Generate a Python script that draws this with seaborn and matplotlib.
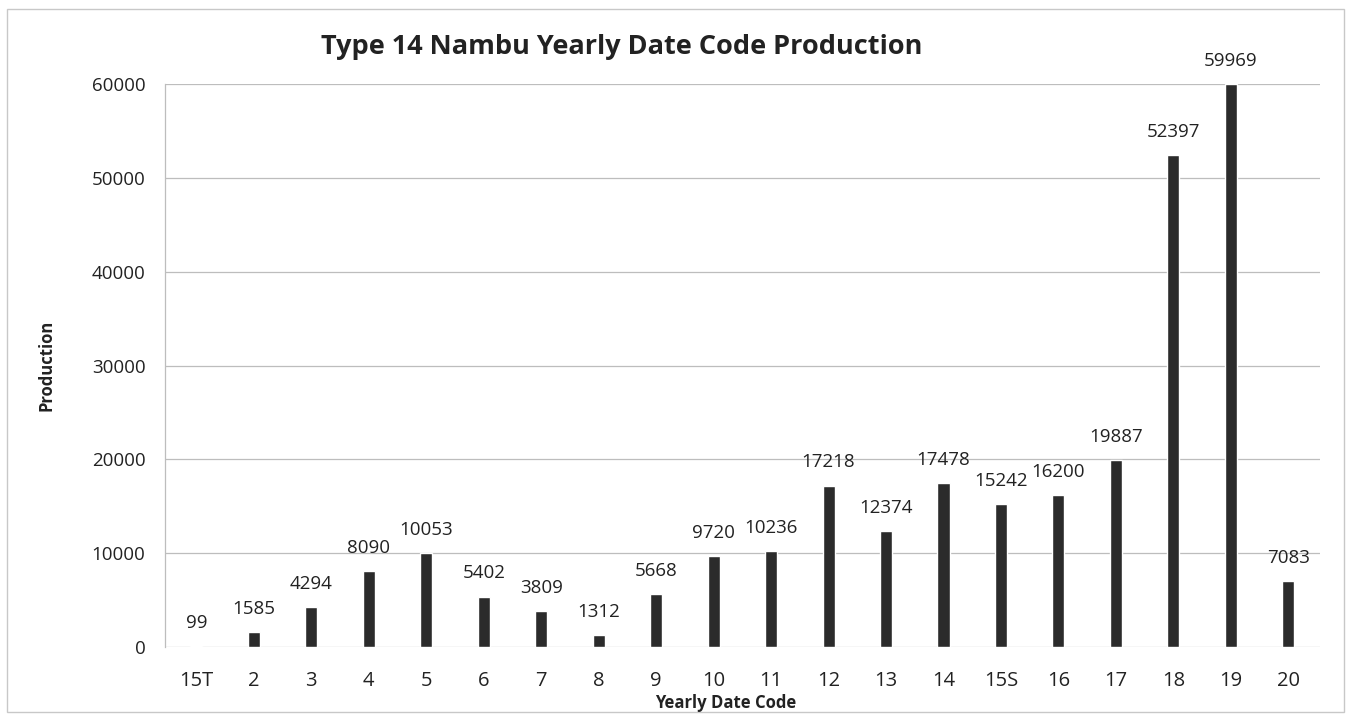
import numpy as np
import pandas as pd
import matplotlib.pyplot as plt
import seaborn as sns
from matplotlib.patches import Rectangle

# ==========================================================
# DATA
# ==========================================================
date_codes = ["15T", "2", "3", "4", "5", "6", "7", "8", "9", "10",
              "11", "12", "13", "14", "15S", "16", "17", "18", "19", "20"]
production = [99, 1585, 4294, 8090, 10053, 5402, 3809, 1312, 5668, 9720,
              10236, 17218, 12374, 17478, 15242, 16200, 19887, 52397, 59969, 7083]
y_ticks = [0, 10000, 20000, 30000, 40000, 50000, 60000]

df = pd.DataFrame({"code": date_codes, "production": production})

# ==========================================================
# STYLE
# ==========================================================
sns.set_style("white")
plt.rcParams["font.family"] = ["Open Sans", "DejaVu Sans"]

fig = plt.figure(figsize=(13.51, 7.16), dpi=100)
ax = fig.add_axes([0.122, 0.096, 0.855, 0.787])

sns.barplot(data=df, x="code", y="production", order=date_codes,
            color="#2b2b2b", width=0.21, saturation=1, ax=ax, zorder=3)

# value labels above the bars
for i, v in enumerate(production):
    ax.text(i, v + 1500, f"{v}", ha="center", va="bottom",
            fontsize=13.5, color="#222222")

ax.set_ylim(0, 60000)
ax.set_xlim(-0.55, len(date_codes) - 0.45)
ax.set_yticks(y_ticks)
ax.set_yticklabels([str(t) for t in y_ticks])
ax.yaxis.grid(True, color="#bdbdbd", linewidth=0.9, zorder=0)
ax.set_axisbelow(True)

for s in ["top", "right", "bottom"]:
    ax.spines[s].set_visible(False)
ax.spines["left"].set_color("#bdbdbd")
ax.spines["left"].set_linewidth(0.9)

ax.tick_params(axis="y", labelsize=13.5, length=0, pad=14, colors="#222222")
ax.tick_params(axis="x", labelsize=14.5, length=0, pad=17, colors="#222222")

ax.set_xlabel("")
ax.set_ylabel("Production", fontsize=12, fontweight="bold",
              labelpad=26, color="#222222")

fig.text(0.537, 0.018, "Yearly Date Code", ha="center", va="center",
         fontsize=12, fontweight="bold", color="#222222")
fig.text(0.46, 0.934, "Type 14 Nambu Yearly Date Code Production",
         ha="center", va="center", fontsize=19.5, fontweight="bold",
         color="#222222")

# outer chart border
fig.patches.append(Rectangle((0.005, 0.005), 0.99, 0.982, transform=fig.transFigure,
                             fill=False, edgecolor="#c8c8c8", linewidth=1))

plt.savefig("out.png", dpi=100)
